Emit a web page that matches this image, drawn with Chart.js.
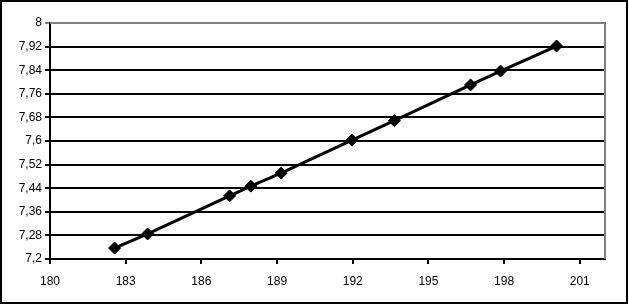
<!DOCTYPE html>
<html>
<head>
<meta charset="utf-8">
<script src="https://cdn.jsdelivr.net/npm/chart.js@4/dist/chart.umd.min.js"></script>
<style>
    body { margin: 0; background: #fff; }
    canvas { display: block; }
</style>
</head>
<body>
<canvas id="lineChart" width="629" height="305"></canvas>
<script>
// values
const xValues = [182.56, 183.87, 187.12, 187.96, 189.16, 191.97, 193.65, 196.67, 197.86, 200.08];
const yValues = [7.237, 7.285, 7.414, 7.447, 7.491, 7.603, 7.669, 7.790, 7.837, 7.922];
const xRange = [180, 202];
const yRange = [7.2, 8];
const xStep = 3;
const yStep = 0.08;

document.addEventListener('DOMContentLoaded', function() {

    const points = xValues.map(function(x, i) {
        return { x: x, y: yValues[i] };
    });

    // comma decimals like the original
    function commaLabel(value) {
        const rounded = Math.round(value * 100) / 100;
        return String(rounded).replace('.', ',');
    }

    // outer frame plus gray top/right border of the plot area
    const framePlugin = {
        id: 'frame',
        afterDraw: function(chart) {
            const ctx = chart.ctx;
            const area = chart.chartArea;
            ctx.save();
            ctx.strokeStyle = '#808080';
            ctx.lineWidth = 2;
            ctx.beginPath();
            ctx.moveTo(area.left, area.top);
            ctx.lineTo(area.right, area.top);
            ctx.lineTo(area.right, area.bottom);
            ctx.stroke();

            ctx.strokeStyle = '#000';
            ctx.lineWidth = 2;
            ctx.strokeRect(1, 1, chart.width - 3, chart.height - 3);
            ctx.restore();
        }
    };

    const ctx = document.getElementById('lineChart').getContext('2d');

    new Chart(ctx, {
        type: 'scatter',
        data: {
            datasets: [{
                data: points,
                showLine: true,
                borderColor: '#000',
                borderWidth: 3,
                backgroundColor: '#000',
                pointStyle: 'rectRot',
                pointRadius: 6,
                pointBorderWidth: 1,
                pointBorderColor: '#000'
            }]
        },
        options: {
            responsive: false,
            animation: false,
            layout: {
                padding: { left: 0, top: 23, right: 24, bottom: 0 }
            },
            plugins: {
                legend: { display: false },
                tooltip: { enabled: false }
            },
            scales: {
                x: {
                    type: 'linear',
                    min: xRange[0],
                    max: xRange[1],
                    afterFit: function(scale) { scale.height = 46; },
                    border: { color: '#000', width: 2 },
                    grid: {
                        drawOnChartArea: false,
                        drawTicks: true,
                        tickLength: 5,
                        color: '#000',
                        lineWidth: 2
                    },
                    ticks: {
                        stepSize: xStep,
                        includeBounds: false,
                        color: '#000',
                        padding: 10,
                        maxRotation: 0,
                        font: { family: '"Liberation Sans", Arial, sans-serif', size: 12 }
                    }
                },
                y: {
                    min: yRange[0],
                    max: yRange[1],
                    afterFit: function(scale) { scale.width = 50; },
                    border: { color: '#000', width: 2 },
                    grid: {
                        color: function(c) {
                            if (c.tick && Math.abs(c.tick.value - yRange[1]) < 1e-6) {
                                return '#808080';
                            }
                            return '#000';
                        },
                        lineWidth: 2,
                        tickLength: 5,
                        drawTicks: true
                    },
                    ticks: {
                        stepSize: yStep,
                        color: '#000',
                        padding: 3,
                        callback: commaLabel,
                        font: { family: '"Liberation Sans", Arial, sans-serif', size: 12 }
                    }
                }
            }
        },
        plugins: [framePlugin]
    });
});
</script>
</body>
</html>
